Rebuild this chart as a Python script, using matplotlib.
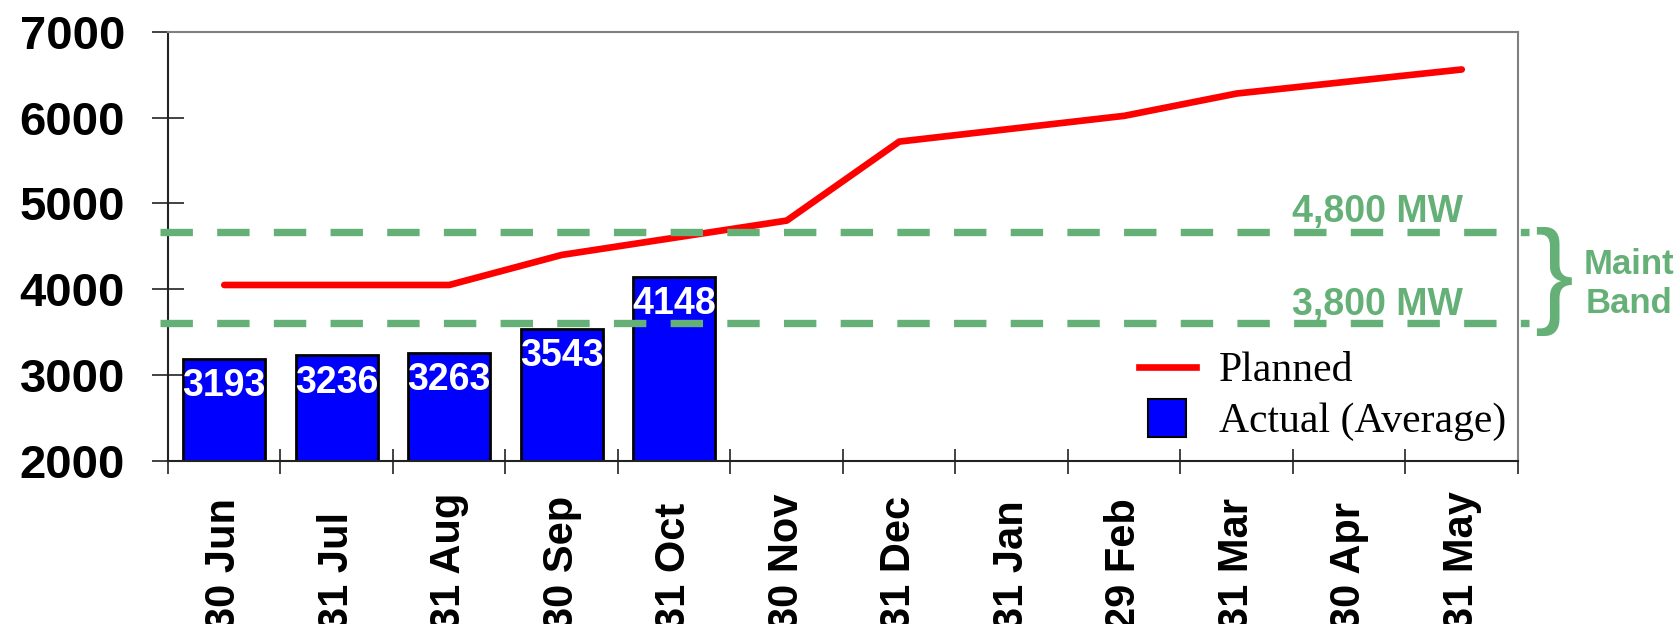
import numpy as np
import matplotlib
matplotlib.use("Agg")
import matplotlib.pyplot as plt
from matplotlib.lines import Line2D

# chart data
months = ['30 Jun', '31 Jul', '31 Aug', '30 Sep', '31 Oct', '30 Nov',
          '31 Dec', '31 Jan', '29 Feb', '31 Mar', '30 Apr', '31 May']
planned = [4050, 4050, 4050, 4400, 4600, 4800, 5720, 5870, 6020, 6280, 6420, 6560]
actual = [3193, 3236, 3263, 3543, 4148]
band_levels = [4665, 3610]          # where the dashed lines are drawn
band_labels = ['4,800 MW', '3,800 MW']
band_label_y = [4905, 3820]
yticks = [2000, 3000, 4000, 5000, 6000, 7000]

green = '#64b077'
plt.rcParams['font.family'] = 'Liberation Sans'

fig = plt.figure(figsize=(16.81, 6.24), dpi=100)
ax = fig.add_axes([168 / 1681, 1 - 461 / 624, 1350 / 1681, 429.3 / 624])

x = np.arange(len(months))

# bars + value labels
ax.bar(x[:len(actual)], actual, width=0.73, color='#0000ff',
       edgecolor='black', linewidth=2, zorder=2)
for i, v in enumerate(actual):
    ax.text(i, v - 440, str(v), ha='center', va='baseline', color='white',
            fontsize=27, fontweight='bold', zorder=4)

# planned line
ax.plot(x, planned, color='red', lw=4.8, solid_capstyle='round', zorder=3)

# maintenance band lines
trans = ax.get_yaxis_transform()
for lvl, lab, ly in zip(band_levels, band_labels, band_label_y):
    ax.plot([-0.006, 1.008], [lvl, lvl], transform=trans, color=green, lw=5.3,
            dashes=(4.4, 3.3), clip_on=False, zorder=5)
    ax.text(0.896, ly, lab, transform=trans, ha='center', va='center',
            color=green, fontsize=27, fontweight='bold', zorder=6)

fig.text(1554 / 1681, 1 - 282 / 624, '}', fontsize=84, color=green,
         ha='center', va='center')
fig.text(1629 / 1681, 1 - 284 / 624, 'Maint\nBand', fontsize=25, color=green,
         fontweight='bold', ha='center', va='center', linespacing=1.25)

# axes
ax.set_xlim(-0.5, len(months) - 0.5)
ax.set_ylim(2000, 7000)
ax.set_yticks(yticks, [str(t) for t in yticks], fontweight='bold')
ax.set_xticks(x, months, rotation=90, va='bottom', ha='center',
              fontweight='bold')
ax.set_xticks(np.arange(-0.5, len(months), 1), minor=True)

ax.tick_params(axis='y', direction='inout', length=23, width=1.2,
               pad=19.5, labelsize=34, color='#222222')
ax.tick_params(axis='x', which='major', length=0, pad=122, labelsize=30)
ax.tick_params(axis='x', which='minor', direction='inout', length=18,
               width=1.2, color='#222222')

for side in ['left', 'bottom']:
    ax.spines[side].set_color('#222222')
    ax.spines[side].set_linewidth(1.5)
for side in ['top', 'right']:
    ax.spines[side].set_color('#808080')
    ax.spines[side].set_linewidth(1.5)

# legend
handles = [Line2D([], [], color='red', lw=4.8),
           Line2D([], [], marker='s', ls='none', markerfacecolor='#0000ff',
                  markeredgecolor='black', markersize=27, markeredgewidth=1.5)]
ax.legend(handles, ['Planned', 'Actual (Average)'], loc='upper left',
          bbox_to_anchor=(0.719, 0.254), frameon=False,
          prop={'family': 'Liberation Serif', 'size': 30},
          handlelength=1.37, handletextpad=0.55, labelspacing=0.3,
          borderaxespad=0, borderpad=0)

fig.savefig('out.png', dpi=100)
